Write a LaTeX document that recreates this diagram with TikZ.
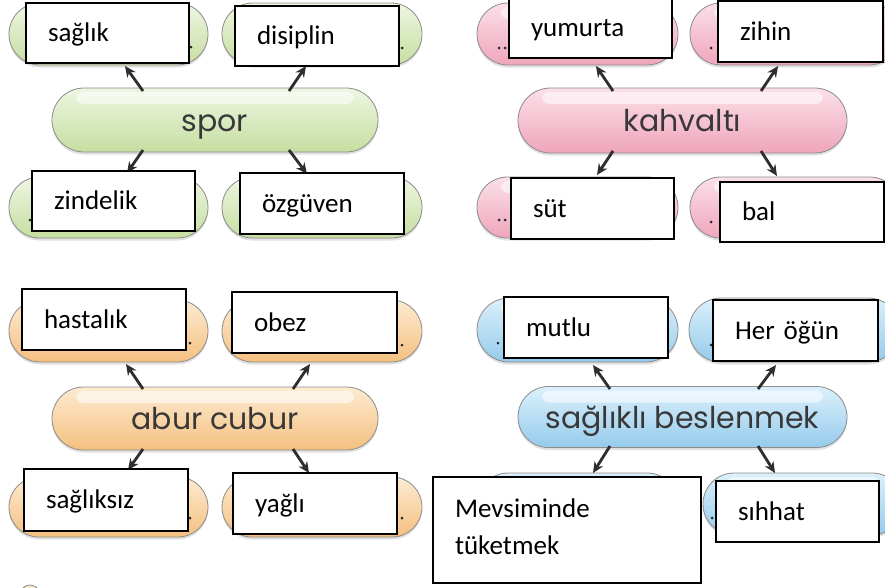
\documentclass[tikz,border=0pt]{standalone}
\usepackage{fontspec}
\setmainfont{Carlito}
\newfontfamily\pillfont{Poppins}
\usetikzlibrary{shapes.misc,arrows.meta,shadows,calc}
\definecolor{gL}{HTML}{EEF6E2}\definecolor{gB}{HTML}{C6DEA0}
\definecolor{pL}{HTML}{FBE0E8}\definecolor{pB}{HTML}{EFA5BB}
\definecolor{oL}{HTML}{FDEBD2}\definecolor{oB}{HTML}{F5C080}
\definecolor{bL}{HTML}{DCF0FB}\definecolor{bB}{HTML}{95CBEC}
\tikzset{
  pill/.style={rounded rectangle, draw=black!45, line width=0.8pt, inner sep=0pt,
    top color=#1L, bottom color=#1B,
    drop shadow={shadow xshift=0pt,shadow yshift=-2.5pt,fill=black,opacity=0.12},
    path picture={\fill[white,opacity=.55,rounded corners=7pt]
      ($(path picture bounding box.north west)+(24,4)$) rectangle
      ($(path picture bounding box.north east)+(-24,16)$);},
    text height=26pt, text depth=4pt,
    font=\pillfont\fontsize{30}{32}\selectfont, text=black!78},
  wbox/.style={draw=black, line width=1.5pt, fill=white, inner xsep=22pt, inner ysep=0pt,
    align=left, text height=21pt, text depth=4pt, font=\fontsize{27}{32}\selectfont},
  bigbox/.style={draw=black, line width=1.5pt, fill=white, inner xsep=22pt, inner ysep=0pt,
    align=left, font=\fontsize{27}{37}\selectfont},
  arr/.style={draw=black!82, line width=2.8pt, -{Stealth[length=11pt,width=10pt]}},
  dotmark/.style={fill=black!85}
}
\begin{document}
\begin{tikzpicture}[x=1pt,y=-1pt]
\useasboundingbox (0,0) rectangle (885,587);
\clip (0,0) rectangle (885,587);
\fill[white] (0,0) rectangle (885,587);

% ---------- spor (green) ----------
\node[pill=g, minimum width=199pt, minimum height=62pt] (g1) at (108.5,34) {};
\node[pill=g, minimum width=200pt, minimum height=62pt] (g2) at (322,34) {};
\node[pill=g, minimum width=199pt, minimum height=61pt] (g3) at (108.5,207.5) {};
\node[pill=g, minimum width=200pt, minimum height=61pt] (g4) at (322,207.5) {};
\node[pill=g, minimum width=326pt, minimum height=64pt] (spor) at (215,120) {spor};
\fill[dotmark] (191,47) circle (1.5) (402,48) circle (1.5) (30,220) circle (1.5);

% ---------- kahvalti (pink) ----------
\node[pill=p, minimum width=201pt, minimum height=62pt] (p1) at (577.5,34) {};
\node[pill=p, minimum width=210pt, minimum height=62pt] (p2) at (795,34) {};
\node[pill=p, minimum width=201pt, minimum height=61pt] (p3) at (577.5,207.5) {};
\node[pill=p, minimum width=210pt, minimum height=61pt] (p4) at (795,207.5) {};
\node[pill=p, minimum width=329pt, minimum height=65pt] (kahvalti) at (682.5,120.5) {kahvaltı};
\fill[dotmark] (499,48) circle (1.5) (505,48) circle (1.5) (711,48) circle (1.5)
  (499,220) circle (1.5) (505,220) circle (1.5) (711,222) circle (1.5);

% ---------- abur cubur (orange) ----------
\node[pill=o, minimum width=199pt, minimum height=62pt] (o1) at (108.5,331) {};
\node[pill=o, minimum width=200pt, minimum height=62pt] (o2) at (322,331) {};
\node[pill=o, minimum width=199pt, minimum height=60pt] (o3) at (108.5,507) {};
\node[pill=o, minimum width=200pt, minimum height=60pt] (o4) at (322,507) {};
\node[pill=o, minimum width=326pt, minimum height=63pt] (abur) at (215,418.5) {abur cubur};
\fill[dotmark] (190,343) circle (1.5) (402,345) circle (1.5) (190,518) circle (1.5) (402,518) circle (1.5);
\node[pill=o, minimum width=20pt, minimum height=20pt, text height=0pt, text depth=0pt] (o5) at (30,595) {};

% ---------- saglikli beslenmek (blue) ----------
\node[pill=b, minimum width=201pt, minimum height=64pt] (b1) at (577.5,330) {};
\node[pill=b, minimum width=211pt, minimum height=64pt] (b2) at (794.5,330) {};
\node[pill=b, minimum width=201pt, minimum height=62pt] (b3) at (577.5,504) {};
\node[pill=b, minimum width=200pt, minimum height=62pt] (b4) at (803,504) {};
\node[pill=b, minimum width=329pt, minimum height=61pt] (saglikli) at (682.5,417) {sağlıklı beslenmek};
\fill[dotmark] (498,343) circle (1.5) (711,345) circle (1.5) (712,518) circle (1.5);

% ---------- arrows ----------
\coordinate (s1a) at (143,91);  \coordinate (s1b) at (125,66);
\coordinate (s2a) at (289,91);  \coordinate (s2b) at (306,66);
\coordinate (s3a) at (143,150); \coordinate (s3b) at (127,173);
\coordinate (s4a) at (289,150); \coordinate (s4b) at (307,174);
\coordinate (k1a) at (613,91);  \coordinate (k1b) at (596,66);
\coordinate (k2a) at (761,91);  \coordinate (k2b) at (778,66);
\coordinate (k3a) at (613,151); \coordinate (k3b) at (597,175);
\coordinate (k4a) at (761,151); \coordinate (k4b) at (777,176);
\coordinate (a1a) at (143,389); \coordinate (a1b) at (126,364);
\coordinate (a2a) at (293,389); \coordinate (a2b) at (310,364);
\coordinate (a3a) at (143,449); \coordinate (a3b) at (128,470);
\coordinate (a4a) at (293,449); \coordinate (a4b) at (309,473);
\coordinate (l1a) at (610,389); \coordinate (l1b) at (593,365);
\coordinate (l2a) at (758,389); \coordinate (l2b) at (776,365);
\coordinate (l3a) at (610,446); \coordinate (l3b) at (593,473);
\coordinate (l4a) at (758,446); \coordinate (l4b) at (775,473);
\foreach \p in {s1,s2,s3,s4,k1,k2,k3,k4,a1,a2,a3,a4,l1,l2,l3,l4}
  \draw[arr] (\p a) -- (\p b);

% ---------- white answer boxes ----------
\node[wbox, text width=119pt, minimum height=60pt] (saglik) at (107.5,33) {sağlık};
\node[wbox, text width=120pt, minimum height=60pt] (disiplin) at (317,36) {disiplin};
\node[wbox, text width=119pt, minimum height=60pt] (zindelik) at (113.5,201) {zindelik};
\node[wbox, text width=120pt, minimum height=61pt] (ozguven) at (322,203.5) {özgüven};
\node[wbox, text width=119pt, minimum height=61pt] (yumurta) at (590.5,27.5) {yumurta};
\node[wbox, text width=121pt, minimum height=61pt] (zihin) at (800.5,31.5) {zihin};
\node[wbox, text width=119pt, minimum height=61pt] (sut) at (592.5,208.5) {süt};
\node[wbox, text width=120pt, minimum height=60pt] (bal) at (802,212) {bal};
\node[wbox, text width=120pt, minimum height=61pt] (hastalik) at (104,319.5) {hastalık};
\node[wbox, text width=121pt, minimum height=61pt] (obez) at (314.5,322.5) {obez};
\node[wbox, text width=120pt, minimum height=62pt] (sagliksiz) at (106,500) {sağlıksız};
\node[wbox, text width=120pt, minimum height=61pt] (yagli) at (315,503.5) {yağlı};
\node[wbox, text width=120pt, minimum height=61pt] (mutlu) at (586,327.5) {mutlu};
\node[wbox, text width=121pt, minimum height=61pt] (herogun) at (795.5,330.5) {Her öğün};
\node[wbox, text width=119pt, minimum height=61pt] (sihhat) at (797.5,511.5) {sıhhat};
\node[bigbox, text width=224pt, minimum height=106pt, text depth=43pt] (mevsim) at (567,530) {Mevsiminde\\tüketmek};
\end{tikzpicture}
\end{document}
